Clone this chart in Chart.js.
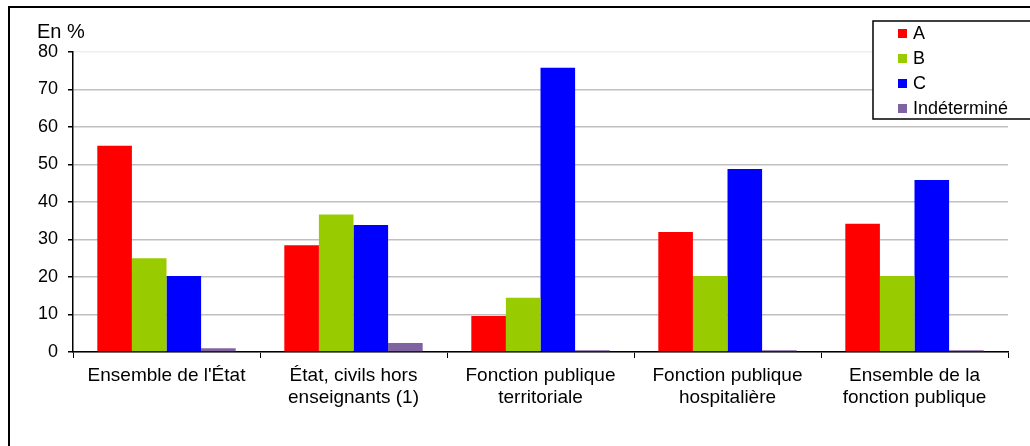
<!DOCTYPE html>
<html>
<head>
<meta charset="utf-8">
<script src="https://cdn.jsdelivr.net/npm/chart.js@4.4.1/dist/chart.umd.min.js"></script>
<style>
html,body{margin:0;padding:0;background:#fff;}
#wrap{position:relative;width:1030px;height:446px;overflow:hidden;}
#frame{position:absolute;left:8px;top:6px;width:1040px;height:460px;border:2px solid #000;box-sizing:border-box;}
canvas{position:absolute;left:0;top:0;}
</style>
</head>
<body>
<div id="wrap">
<div id="frame"></div>
<canvas id="c" width="1030" height="446"></canvas>
</div>
<script>
const categories = [
  ["Ensemble de l'État"],
  ["État, civils hors", "enseignants (1)"],
  ["Fonction publique", "territoriale"],
  ["Fonction publique", "hospitalière"],
  ["Ensemble de la", "fonction publique"]
];
const seriesNames = ["A", "B", "C", "Indéterminé"];
const valuesA = [55.0, 28.5, 9.6, 32.0, 34.2];
const valuesB = [25.0, 36.7, 14.5, 20.3, 20.3];
const valuesC = [20.3, 33.9, 75.8, 48.8, 45.9];
const valuesInd = [1.0, 2.4, 0.5, 0.5, 0.5];
const colors = ["#ff0000", "#99cc00", "#0000ff", "#8064a2"];
const yTicks = [0, 10, 20, 30, 40, 50, 60, 70, 80];
const unitLabel = "En %";

const FONT = "'Liberation Sans', Arial, sans-serif";

const overlay = {
  id: 'overlay',
  afterDraw(chart) {
    const ctx = chart.ctx;
    ctx.save();
    // unit label
    ctx.fillStyle = '#000';
    ctx.font = "20px " + FONT;
    ctx.textBaseline = 'middle';
    ctx.textAlign = 'left';
    ctx.fillText(unitLabel, 37, 32);
    // legend box (right side runs past the picture edge)
    const lx = 873, ly = 21, lw = 180, lh = 98;
    ctx.fillStyle = '#fff';
    ctx.fillRect(lx, ly, lw, lh);
    ctx.strokeStyle = '#000';
    ctx.lineWidth = 1.5;
    ctx.strokeRect(lx, ly, lw, lh);
    ctx.font = "18px " + FONT;
    chart.data.datasets.forEach((ds, i) => {
      const y = 33 + i * 25;
      ctx.fillStyle = ds.backgroundColor;
      ctx.fillRect(898, y - 4, 9, 9);
      ctx.fillStyle = '#000';
      ctx.fillText(ds.label, 913, y + 1);
    });
    ctx.restore();
  }
};

const data = {
  labels: categories,
  datasets: [valuesA, valuesB, valuesC, valuesInd].map((v, i) => ({
    label: seriesNames[i],
    data: v,
    backgroundColor: colors[i],
    borderWidth: 0,
    barPercentage: 1.0,
    categoryPercentage: 0.74
  }))
};

new Chart(document.getElementById('c'), {
  type: 'bar',
  data,
  plugins: [overlay],
  options: {
    responsive: false,
    animation: false,
    layout: { padding: { left: 0, right: 22, top: 52, bottom: 0 } },
    plugins: { legend: { display: false }, tooltip: { enabled: false } },
    scales: {
      x: {
        grid: { display: true, drawOnChartArea: false, drawTicks: true, tickLength: 6, tickColor: '#000', offset: true },
        border: { display: true, color: '#000', width: 1.5 },
        ticks: { color: '#000', font: { family: FONT, size: 19, lineHeight: 1.2 }, padding: 6, maxRotation: 0, autoSkip: false },
        afterFit: s => { s.height = 94; }
      },
      y: {
        min: 0, max: 80,
        afterBuildTicks: s => { s.ticks = yTicks.map(v => ({ value: v })); },
        grid: { color: ctx => (ctx.tick && ctx.tick.value === 80) ? '#eeeeee' : '#c0c0c0', lineWidth: 1.5, drawTicks: true, tickLength: 5, tickColor: '#000' },
        border: { display: true, color: '#000', width: 1.5 },
        ticks: { color: '#000', font: { family: FONT, size: 18 }, padding: 10 },
        afterFit: s => { s.width = 73; }
      }
    }
  }
});
</script>
</body>
</html>
